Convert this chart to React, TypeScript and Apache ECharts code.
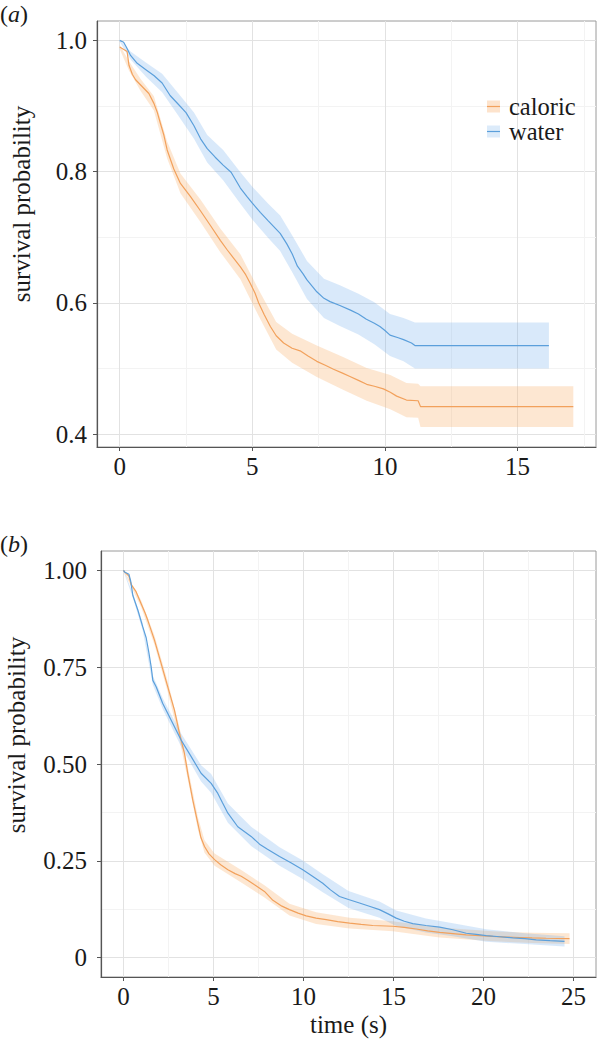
import React, { useEffect, useRef } from "react";
import * as echarts from "echarts";

const FONT = "Liberation Serif";

// ---------- Panel (a) ----------
const caloricA: [number, number][] = [
  [0, 0.99], [0.28, 0.983], [0.35, 0.962], [0.48, 0.948], [0.6, 0.94], [0.79, 0.932], [1.1, 0.919],
  [1.29, 0.904], [1.42, 0.89], [1.54, 0.873], [1.67, 0.855], [1.79, 0.833], [2.04, 0.804], [2.29, 0.782],
  [2.67, 0.762], [3.05, 0.74], [3.42, 0.718], [3.8, 0.695], [4.05, 0.681], [4.3, 0.668], [4.55, 0.655],
  [4.75, 0.643], [4.92, 0.63], [5.1, 0.615], [5.24, 0.6], [5.45, 0.582], [5.68, 0.564], [5.9, 0.55],
  [6.18, 0.539], [6.5, 0.531], [6.8, 0.527], [7.1, 0.519], [7.43, 0.511], [7.75, 0.505], [8.06, 0.499],
  [8.4, 0.493], [8.68, 0.488], [9.0, 0.482], [9.31, 0.476], [9.6, 0.473], [9.94, 0.469], [10.2, 0.464],
  [10.44, 0.458], [10.81, 0.452], [11.25, 0.451], [11.34, 0.442], [17.1, 0.442],
];
const waterA: [number, number][] = [
  [0, 1.0], [0.15, 0.997], [0.25, 0.99], [0.41, 0.977], [0.66, 0.965], [1.0, 0.955], [1.3, 0.946],
  [1.6, 0.935], [1.9, 0.916], [2.2, 0.903], [2.5, 0.89], [2.8, 0.87], [3.05, 0.85], [3.3, 0.835],
  [3.6, 0.822], [3.9, 0.81], [4.2, 0.799], [4.55, 0.775], [4.8, 0.762], [5.0, 0.752], [5.3, 0.738],
  [5.6, 0.725], [6.05, 0.706], [6.3, 0.69], [6.5, 0.675], [6.7, 0.656], [6.9, 0.645], [7.06, 0.635],
  [7.43, 0.617], [7.7, 0.607], [7.93, 0.602], [8.3, 0.596], [8.7, 0.589], [9.0, 0.583], [9.3, 0.575],
  [9.6, 0.569], [9.81, 0.564], [10.0, 0.558], [10.19, 0.551], [10.5, 0.547], [10.7, 0.544], [11.0, 0.539],
  [11.13, 0.535], [16.18, 0.535],
];
// [time, lower, upper]
const caloricBandA: [number, number, number][] = [
  [0, 0.987, 0.993], [0.35, 0.954, 0.968], [0.79, 0.923, 0.941], [1.29, 0.893, 0.915], [1.79, 0.82, 0.846],
  [2.29, 0.767, 0.797], [3.05, 0.723, 0.757], [3.8, 0.677, 0.713], [4.55, 0.636, 0.674], [5.24, 0.58, 0.62],
  [5.9, 0.529, 0.571], [6.5, 0.509, 0.553], [7.43, 0.487, 0.535], [8.4, 0.468, 0.518], [9.31, 0.451, 0.501],
  [10.2, 0.438, 0.49], [10.81, 0.426, 0.478], [11.25, 0.425, 0.477], [11.34, 0.411, 0.473], [17.1, 0.411, 0.473],
];
const waterBandA: [number, number, number][] = [
  [0, 0.998, 1.0], [0.41, 0.971, 0.983], [1.0, 0.944, 0.966], [1.6, 0.921, 0.949], [2.2, 0.886, 0.92],
  [2.8, 0.85, 0.89], [3.3, 0.814, 0.856], [3.9, 0.787, 0.833], [4.55, 0.751, 0.799], [5.0, 0.727, 0.777],
  [5.6, 0.699, 0.751], [6.05, 0.679, 0.733], [6.5, 0.647, 0.703], [7.06, 0.606, 0.664], [7.7, 0.577, 0.637],
  [8.3, 0.565, 0.627], [9.0, 0.552, 0.614], [9.6, 0.537, 0.601], [10.19, 0.519, 0.583], [10.7, 0.511, 0.577],
  [11.13, 0.5, 0.57], [16.18, 0.5, 0.57],
];
const xTicksA = [0, 5, 10, 15];
const xMinorA = [2.5, 7.5, 12.5, 17.5];
const yTicksA = [0.4, 0.6, 0.8, 1.0];
const yMinorA = [0.5, 0.7, 0.9];

// ---------- Panel (b) ----------
const caloricB: [number, number][] = [
  [0, 1.0], [0.06, 0.996], [0.3, 0.985], [0.43, 0.963], [0.7, 0.945], [0.98, 0.914], [1.2, 0.89],
  [1.35, 0.871], [1.72, 0.82], [2.09, 0.76], [2.46, 0.699], [2.83, 0.639], [3.11, 0.579], [3.39, 0.527],
  [3.57, 0.476], [3.85, 0.407], [4.13, 0.347], [4.3, 0.31], [4.5, 0.287], [4.75, 0.268], [5.06, 0.253],
  [5.4, 0.24], [5.8, 0.227], [6.2, 0.217], [6.54, 0.21], [6.9, 0.2], [7.28, 0.188], [7.83, 0.171],
  [8.3, 0.148], [8.8, 0.133], [9.22, 0.124], [9.7, 0.115], [10.15, 0.108], [10.7, 0.102], [11.26, 0.098],
  [11.9, 0.093], [12.56, 0.089], [13.2, 0.086], [13.85, 0.083], [14.96, 0.081], [15.6, 0.078],
  [16.26, 0.074], [16.9, 0.069], [17.56, 0.065], [18.3, 0.062], [19.04, 0.059], [19.8, 0.057],
  [20.52, 0.055], [21.3, 0.053], [22.0, 0.052], [22.7, 0.051], [23.48, 0.05], [24.78, 0.049],
];
const waterB: [number, number][] = [
  [0, 1.0], [0.06, 0.996], [0.3, 0.99], [0.4, 0.972], [0.52, 0.935], [0.8, 0.897], [1.07, 0.854],
  [1.26, 0.826], [1.4, 0.79], [1.54, 0.75], [1.63, 0.716], [1.82, 0.699], [2.18, 0.656], [2.65, 0.613],
  [3.2, 0.562], [3.76, 0.519], [4.31, 0.476], [4.87, 0.45], [5.24, 0.424], [5.5, 0.4], [5.8, 0.373],
  [6.35, 0.338], [7.09, 0.313], [7.56, 0.293], [8.0, 0.28], [8.67, 0.261], [9.3, 0.245], [9.96, 0.227],
  [10.5, 0.21], [11.07, 0.192], [11.5, 0.175], [12.0, 0.158], [12.5, 0.15], [13.11, 0.141], [13.7, 0.132],
  [14.22, 0.124], [14.7, 0.113], [15.15, 0.102], [15.6, 0.094], [16.07, 0.088], [16.8, 0.083],
  [17.56, 0.079], [18.3, 0.072], [19.04, 0.063], [19.6, 0.06], [20.15, 0.057], [20.9, 0.054],
  [21.63, 0.051], [22.3, 0.049], [22.93, 0.046], [23.7, 0.044], [24.5, 0.042],
];
const caloricBandB: [number, number, number][] = [
  [0, 0.998, 1.0], [0.43, 0.958, 0.968], [0.98, 0.905, 0.923], [1.72, 0.808, 0.832], [2.46, 0.685, 0.713],
  [3.11, 0.563, 0.595], [3.57, 0.46, 0.492], [4.13, 0.331, 0.363], [4.5, 0.271, 0.303], [5.06, 0.237, 0.269],
  [6.54, 0.194, 0.226], [7.83, 0.155, 0.187], [9.22, 0.109, 0.139], [10.7, 0.087, 0.117], [12.56, 0.075, 0.103],
  [14.96, 0.068, 0.094], [17.56, 0.052, 0.078], [20.52, 0.042, 0.068], [22.7, 0.038, 0.064], [24.78, 0.035, 0.063],
];
const waterBandB: [number, number, number][] = [
  [0, 0.998, 1.0], [0.52, 0.929, 0.941], [1.07, 0.844, 0.864], [1.63, 0.704, 0.728], [2.18, 0.642, 0.67],
  [3.2, 0.545, 0.579], [4.31, 0.455, 0.497], [4.87, 0.426, 0.474], [5.8, 0.348, 0.398], [7.09, 0.288, 0.338],
  [8.67, 0.237, 0.285], [9.96, 0.203, 0.251], [11.07, 0.169, 0.215], [12.5, 0.128, 0.172], [14.22, 0.103, 0.145],
  [15.15, 0.082, 0.122], [16.8, 0.065, 0.101], [18.3, 0.055, 0.089], [20.15, 0.041, 0.073], [22.3, 0.035, 0.063],
  [24.5, 0.029, 0.055],
];
const xTicksB = [0, 5, 10, 15, 20, 25];
const xMinorB = [2.5, 7.5, 12.5, 17.5, 22.5];
const yTicksB = [0, 0.25, 0.5, 0.75, 1.0];
const yLabelsB = ["0", "0.25", "0.50", "0.75", "1.00"];
const yMinorB = [0.125, 0.375, 0.625, 0.875];

const seriesNames = ["caloric", "water"];
const panelLabels = ["a", "b"];
const axisTitles = { y: "survival probability", x: "time (s)" };

const ORANGE = "#F2A15C";
const BLUE = "#5B9FDB";
const ORANGE_FILL = "rgba(250, 175, 105, 0.30)";
const BLUE_FILL = "rgba(105, 168, 235, 0.25)";
const TEXT = "#1a1a1a";
const AXIS = "#555555";

function bandSeries(name: string, band: [number, number, number][], fill: string, ai: number) {
  return {
    type: "custom", name, xAxisIndex: ai, yAxisIndex: ai, silent: true, z: 1,
    data: band, encode: { x: 0, y: [1, 2] }, itemStyle: { color: fill },
    renderItem: (params: any, api: any) => {
      if (params.dataIndex !== 0) return null;
      const upper = band.map((b) => api.coord([b[0], b[2]]));
      const lower = band.slice().reverse().map((b) => api.coord([b[0], b[1]]));
      return { type: "polygon", shape: { points: upper.concat(lower) }, style: { fill, stroke: "none" }, silent: true };
    },
  };
}

function lineSeries(name: string, data: [number, number][], color: string, ai: number) {
  return {
    type: "line", name, xAxisIndex: ai, yAxisIndex: ai, data, symbol: "none", silent: true,
    lineStyle: { color, width: 1.2 }, itemStyle: { color }, z: 3,
  };
}

const labelStyle = { fontSize: 25, fontFamily: FONT, color: TEXT };

function majorX(grid: number, min: number, max: number, ticks: number[], extra: any = {}) {
  return {
    type: "value", gridIndex: grid, min, max, ...extra,
    axisLine: { show: true, onZero: false, lineStyle: { color: AXIS, width: 1.2 } },
    axisTick: { show: true, length: 4, lineStyle: { color: AXIS }, customValues: ticks },
    axisLabel: { ...labelStyle, margin: 7, customValues: ticks },
    splitLine: { show: true, lineStyle: { color: "#e2e2e2", width: 1 } },
  };
}
function minorAxis(grid: number, min: number, max: number, ticks: number[]) {
  return {
    type: "value", gridIndex: grid, min, max,
    axisLine: { show: false, onZero: false },
    axisTick: { show: false, customValues: ticks },
    axisLabel: { show: false, customValues: ticks },
    splitLine: { show: true, lineStyle: { color: "#f3f3f3", width: 1 } },
  };
}
function majorY(grid: number, min: number, max: number, ticks: number[], margin: number, formatter: any, nameGap: number, shift: number) {
  return {
    type: "value", gridIndex: grid, min, max,
    name: axisTitles.y, nameLocation: "middle", nameGap,
    nameTextStyle: { ...labelStyle, padding: [0, 0, 0, shift] },
    axisLine: { show: true, onZero: false, lineStyle: { color: AXIS, width: 1.2 } },
    axisTick: { show: true, length: 4, lineStyle: { color: AXIS }, customValues: ticks },
    axisLabel: { ...labelStyle, margin, customValues: ticks, formatter },
    splitLine: { show: true, lineStyle: { color: "#e2e2e2", width: 1 } },
  };
}

function panelTitle(letter: string, top: number) {
  return {
    text: "{p|(}{i|" + letter + "}{p|)}", left: 0, top, padding: 0,
    textStyle: {
      fontSize: 24, fontFamily: FONT, fontWeight: "normal", color: TEXT,
      rich: {
        p: { fontSize: 24, fontFamily: FONT, color: TEXT },
        i: { fontSize: 24, fontFamily: FONT, fontStyle: "italic", color: TEXT },
      },
    },
  };
}

export default function App() {
  const ref = useRef<HTMLDivElement>(null);
  useEffect(() => {
    document.body.style.margin = "0";
    if (!ref.current) return;
    const chart = echarts.init(ref.current, null, { renderer: "svg" });
    const fmtB = (v: number) => {
      const i = yTicksB.findIndex((t) => Math.abs(t - v) < 1e-9);
      return i >= 0 ? yLabelsB[i] : String(v);
    };
    const option: any = {
      animation: false,
      backgroundColor: "#ffffff",
      title: [panelTitle(panelLabels[0], 2), panelTitle(panelLabels[1], 532)],
      legend: [
        {
          left: 487, top: 94, orient: "vertical", padding: 0, itemGap: 0,
          itemWidth: 13, itemHeight: 12, selectedMode: false,
          textStyle: { ...labelStyle, fontSize: 24.5, lineHeight: 22, padding: [0, 0, 0, 4] },
          data: [
            { name: seriesNames[0], icon: "rect", itemStyle: { color: "#FDE3CC", borderWidth: 0 } },
            { name: seriesNames[1], icon: "rect", itemStyle: { color: "#DCEBFA", borderWidth: 0 } },
          ],
        },
        {
          left: 487, top: 94, orient: "vertical", padding: 0, itemGap: 0,
          itemWidth: 13, itemHeight: 1.2, selectedMode: false,
          textStyle: { ...labelStyle, fontSize: 24.5, lineHeight: 22, padding: [0, 0, 0, 4], color: "rgba(0,0,0,0)" },
          data: [
            { name: seriesNames[0], icon: "rect", itemStyle: { color: ORANGE, borderWidth: 0 } },
            { name: seriesNames[1], icon: "rect", itemStyle: { color: BLUE, borderWidth: 0 } },
          ],
        },
      ],
      grid: [
        { left: 97, top: 21, width: 499, height: 426, show: true, borderColor: "#9a9a9a", borderWidth: 1, backgroundColor: "transparent", containLabel: false, outerBoundsMode: "none" },
        { left: 101, top: 551, width: 495, height: 426, show: true, borderColor: "#9a9a9a", borderWidth: 1, backgroundColor: "transparent", containLabel: false, outerBoundsMode: "none" },
      ],
      xAxis: [
        majorX(0, -0.855, 17.955, xTicksA),
        minorAxis(0, -0.855, 17.955, xMinorA),
        majorX(1, -1.25, 26.25, xTicksB, {
          name: axisTitles.x, nameLocation: "middle", nameGap: 35, nameTextStyle: { ...labelStyle },
        }),
        minorAxis(1, -1.25, 26.25, xMinorB),
      ],
      yAxis: [
        majorY(0, 0.3805, 1.0295, yTicksA, 10, (v: number) => v.toFixed(1), 63, 60),
        minorAxis(0, 0.3805, 1.0295, yMinorA),
        majorY(1, -0.05, 1.05, yTicksB, 14, fmtB, 72, 58),
        minorAxis(1, -0.05, 1.05, yMinorB),
      ],
      series: [
        bandSeries(seriesNames[0], caloricBandA, ORANGE_FILL, 0),
        bandSeries(seriesNames[1], waterBandA, BLUE_FILL, 0),
        lineSeries(seriesNames[0], caloricA, ORANGE, 0),
        lineSeries(seriesNames[1], waterA, BLUE, 0),
        bandSeries(seriesNames[0], caloricBandB, ORANGE_FILL, 2),
        bandSeries(seriesNames[1], waterBandB, BLUE_FILL, 2),
        lineSeries(seriesNames[0], caloricB, ORANGE, 2),
        lineSeries(seriesNames[1], waterB, BLUE, 2),
      ],
    };
    chart.setOption(option);
    return () => chart.dispose();
  }, []);
  return <div ref={ref} style={{ width: 598, height: 1041 }} />;
}
